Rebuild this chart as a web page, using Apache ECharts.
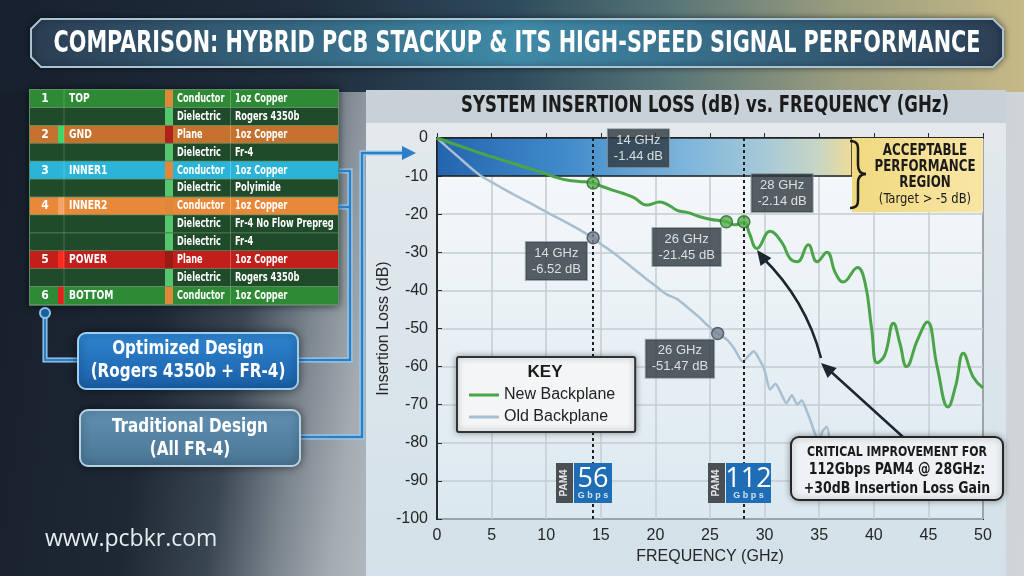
<!DOCTYPE html>
<html>
<head>
<meta charset="utf-8">
<script src="https://cdn.jsdelivr.net/npm/echarts@6/dist/echarts.min.js"></script>
<style>
html,body{margin:0;padding:0;width:1024px;height:576px;overflow:hidden;}
body{
  background:
    linear-gradient(90deg,#18212e 0%,#1f2d3c 30%,#2e4b5c 50%,#567477 65%,#9a9d7e 82%,#c6b987 100%) 0 0/1024px 92px no-repeat,
    linear-gradient(98deg,#161e2a 0%,#1e2835 18%,#3b4653 26%,#7a848d 32%,#a3abb1 37%,#c4cacd 45%,#cfd5d8 100%);
}
#chart{width:1024px;height:576px;}
</style>
</head>
<body>
<div id="chart"></div>
<script>
// ---- data ----
var freqNew = [0,1,2,3,4,5,6,7,8,9,10,11,12,13,14.3,15.2,16,17,18,19.2,20.4,21.2,22,23,24,25,26.5,27.3,28.1,28.6,29.3,30.5,31.6,32.3,33,34,34.8,35.7,36.5,37.2,38.5,39.2,39.8,40.3,41,41.8,42.4,43,44,44.9,45.8,46.8,47.5,48.2,49.1,50];
var lossNew = [0,-1,-2,-3,-4,-4.9,-5.8,-6.7,-7.6,-8.5,-9.4,-10.4,-11.1,-11.4,-11.8,-12.8,-13.6,-14.5,-15.6,-17.6,-16.8,-17.6,-19,-19.6,-20.6,-21.3,-22,-22.8,-22,-25,-29,-24.5,-27.5,-31.5,-32.5,-28,-32.5,-30,-35.5,-37.8,-34,-38,-50,-59,-57,-48.6,-54,-60,-53,-48.3,-60,-70.6,-65,-56.5,-62.7,-65.6];

var freqOld = [0,1,2,3,4,5,6,7,8,9,10,11,12,13,14.3,15,16,17,18,19,20,21,22,23,24,24.7,25.7,26.5,27.2,28,28.6,29,29.6,30,30.5,31,31.5,32,32.5,33,33.4,33.9,34.3,34.6,35,35.3,35.7,36];
var lossOld = [0,-2.6,-5.1,-7.6,-9.9,-11.6,-13.2,-14.8,-16.3,-17.8,-19.4,-20.9,-22.4,-24,-26.2,-27.8,-29.8,-32,-34.3,-36.6,-38.8,-41,-42.3,-44.6,-47,-49,-51.3,-52.8,-55.2,-58.7,-57,-56,-58.5,-61,-66,-64.5,-67,-69.6,-67.5,-70,-68.8,-72,-75,-77.5,-79.5,-77,-75.8,-80];

var ptFreq = [14.3, 26.5, 28.1, 14.3, 25.7];
var ptLoss = [-11.8, -22, -22, -26.2, -51.3];
var ptText = ['14 GHz\n-1.44 dB','26 GHz\n-21.45 dB','28 GHz\n-2.14 dB','14 GHz\n-6.52 dB','26 GHz\n-51.47 dB'];
var ptSeries = ['new','new','new','old','old'];

var markFreq = [14.3, 28.1];

var layerNo = ['1','','2','','3','','4','','','5','','6'];
var layerName = ['TOP','','GND','','INNER1','','INNER2','','','POWER','','BOTTOM'];
var layerType = ['Conductor','Dielectric','Plane','Dielectric','Conductor','Dielectric','Conductor','Dielectric','Dielectric','Plane','Dielectric','Conductor'];
var layerMaterial = ['1oz Copper','Rogers 4350b','1oz Copper','Fr-4','1oz Copper','Polyimide','1oz Copper','Fr-4 No Flow Prepreg','Fr-4','1oz Copper','Rogers 4350b','1oz Copper'];

// ---- styles ----
var rowFill = ['#2e8a34','#1f4b2a','#c4722e','#1f4b2a','#2cb4d8','#1f4b2a','#e8893a','#1f4b2a','#1f4b2a','#c21f1b','#1f4b2a','#2e8a34'];
var noStrip = [null,null,'#3ed66a',null,null,null,'#f4a466',null,null,'#ff2a1e',null,'#e0221c'];
var typeStrip = ['#e0883a','#56c66e','#b0201c','#56c66e','#e0883a','#56c66e','#e0883a','#56c66e','#56c66e','#9a1a16','#56c66e','#e0883a'];
var NARROW = '"Liberation Sans Narrow","DejaVu Sans Condensed",sans-serif';
var SANS = '"Liberation Sans",Arial,sans-serif';

var myChart = echarts.init(document.getElementById('chart'), null, {renderer:'canvas'});

function pairs(xs, ys){ return xs.map(function(x,i){ return [x, ys[i]]; }); }

function txt(x, y, s, font, fill, align, extra){
  var o = {type:'text', x:x, y:y, z:20, silent:true,
    style:{text:s, font:font, fill:fill, align:align||'center', verticalAlign:'middle'}};
  if (extra) for (var k in extra) o[k] = extra[k];
  return o;
}
function box(x, y, w, h, fill, extra){
  var o = {type:'rect', shape:{x:x, y:y, width:w, height:h}, style:{fill:fill}, z:5, silent:true};
  if (extra) for (var k in extra) o[k] = extra[k];
  return o;
}
function curve(x1, y1, c1x, c1y, c2x, c2y, x2, y2, color, w){
  return {type:'bezierCurve', z:21, silent:true,
    shape:{x1:x1, y1:y1, cpx1:c1x, cpy1:c1y, cpx2:c2x, cpy2:c2y, x2:x2, y2:y2},
    style:{stroke:color, lineWidth:w, fill:null}};
}
function arrowHead(tx, ty, fx, fy, size, color){
  var dx = tx - fx, dy = ty - fy, l = Math.sqrt(dx*dx + dy*dy);
  dx /= l; dy /= l;
  var bx = tx - dx*size, by = ty - dy*size;
  return {type:'polygon', z:21, silent:true,
    shape:{points:[[tx,ty],[bx - dy*size*0.45, by + dx*size*0.45],[bx + dy*size*0.45, by - dx*size*0.45]]},
    style:{fill:color}};
}

var g = [];
// header banner
g.push({type:'polygon', z:5, silent:true,
  shape:{points:[[41,19],[993,19],[1003,29],[1003,57],[993,67],[41,67],[31,57],[31,29]]},
  style:{fill:{type:'linear',x:0,y:0,x2:1,y2:0,colorStops:[
    {offset:0,color:'#2b3d52'},{offset:0.5,color:'#3f8aa8'},{offset:1,color:'#2c3e54'}]},
    stroke:'#a9c4d4', lineWidth:2, shadowBlur:6, shadowColor:'rgba(0,0,0,0.5)'}});
g.push({type:'text', x:517, y:44, z:20, silent:true, scaleX:0.745,
  style:{text:'COMPARISON: HYBRID PCB STACKUP & ITS HIGH-SPEED SIGNAL PERFORMANCE',
    font:'bold 31px ' + NARROW, fill:'#ffffff', align:'center', verticalAlign:'middle',
    shadowBlur:3, shadowColor:'rgba(0,0,0,0.7)', shadowOffsetY:1}});

// chart panel
g.push(box(366, 90, 640, 486, {type:'linear',x:0,y:0,x2:0,y2:1,colorStops:[
  {offset:0,color:'#e4e9ec'},{offset:1,color:'#d3e1ea'}]}, {z:-1}));
g.push(box(366, 90, 640, 33, '#c8d1d7', {z:-1}));
g.push(txt(705, 106, 'SYSTEM INSERTION LOSS (dB) vs. FREQUENCY (GHz)', 'bold 23px ' + NARROW, '#1b1b1b', 'center',
  {scaleX:0.8}));

// stackup table
var tx0 = 30, ty0 = 90, rh = 17.9;
g.push(box(tx0-1, ty0-1, 310, rh*12+2, '#5f8f66', {z:4, style:{fill:'#5f8f66', shadowBlur:8, shadowColor:'rgba(0,0,0,0.6)'}}));
for (var i = 0; i < 12; i++) {
  var y = ty0 + i*rh;
  g.push(box(tx0, y, 308, rh - 0.8, rowFill[i]));
  if (noStrip[i]) g.push(box(58, y, 6, rh - 0.8, noStrip[i], {z:6}));
  g.push(box(165, y, 8, rh - 0.8, typeStrip[i], {z:6}));
  g.push(box(230, y, 1, rh - 0.8, 'rgba(255,255,255,0.25)', {z:6}));
  g.push(box(63.5, y, 1, rh - 0.8, 'rgba(255,255,255,0.2)', {z:6}));
  var cy = y + rh/2;
  if (layerNo[i]) g.push(txt(45, cy, layerNo[i], 'bold 12px ' + NARROW, '#ffffff'));
  if (layerName[i]) g.push(txt(69, cy, layerName[i], 'bold 12px ' + NARROW, '#ffffff', 'left', {scaleX:0.85}));
  g.push(txt(177, cy, layerType[i], 'bold 11.5px ' + NARROW, '#ffffff', 'left', {scaleX:0.79}));
  g.push(txt(235, cy, layerMaterial[i], 'bold 11.5px ' + NARROW, '#ffffff', 'left', {scaleX:0.8}));
}

// connectors
function conn(pts){
  g.push({type:'polyline', z:3, silent:true, shape:{points:pts}, style:{stroke:'#9fd0f2', lineWidth:5, fill:null}});
  g.push({type:'polyline', z:4, silent:true, shape:{points:pts}, style:{stroke:'#2c7fc6', lineWidth:2.5, fill:null}});
}
conn([[338,171],[350,171],[350,360],[298,360]]);
conn([[338,207],[350,207]]);
conn([[300,437],[362,437],[362,153],[404,153]]);
g.push({type:'polygon', z:5, silent:true, shape:{points:[[416,153],[402,146],[402,160]]}, style:{fill:'#2c7fc6'}});
conn([[45,318],[45,360],[80,360]]);
g.push({type:'circle', z:6, silent:true, shape:{cx:45, cy:313, r:5}, style:{fill:'#1d5d9a', stroke:'#8cc6ef', lineWidth:2}});

// design boxes
g.push({type:'rect', z:7, silent:true, shape:{x:78, y:333, width:220, height:56, r:8},
  style:{fill:{type:'linear',x:0,y:0,x2:0,y2:1,colorStops:[{offset:0,color:'#2f86d2'},{offset:1,color:'#1a5ea6'}]},
    stroke:'#9bd0f4', lineWidth:2, shadowBlur:8, shadowColor:'rgba(0,0,0,0.5)'}});
g.push(txt(188, 349, 'Optimized Design', 'bold 19px ' + NARROW, '#ffffff', 'center', {scaleX:0.89}));
g.push(txt(188, 372, '(Rogers 4350b + FR-4)', 'bold 19px ' + NARROW, '#ffffff', 'center', {scaleX:0.89}));
g.push({type:'rect', z:7, silent:true, shape:{x:80, y:410, width:220, height:56, r:8},
  style:{fill:{type:'linear',x:0,y:0,x2:0,y2:1,colorStops:[{offset:0,color:'#6191b2'},{offset:1,color:'#4a7594'}]},
    stroke:'#b4d2e4', lineWidth:2, shadowBlur:8, shadowColor:'rgba(0,0,0,0.5)'}});
g.push(txt(190, 427, 'Traditional Design', 'bold 19px ' + NARROW, '#ffffff', 'center', {scaleX:0.89}));
g.push(txt(190, 450, '(All FR-4)', 'bold 19px ' + NARROW, '#ffffff', 'center', {scaleX:0.89}));

g.push(txt(45, 539, 'www.pcbkr.com', '23px "Open Sans",sans-serif', '#e6ecef', 'left'));

// acceptable region note, with its brace
var BR = '#1a1a1a';
g.push(curve(850,141, 859,141, 858,147, 858,153, BR, 2.5));
g.push({type:'line', z:21, silent:true, shape:{x1:858,y1:153,x2:858,y2:165}, style:{stroke:BR, lineWidth:2.5}});
g.push(curve(858,165, 858,171, 861,174, 866,174, BR, 2.5));
g.push(curve(866,174, 861,174, 858,177, 858,183, BR, 2.5));
g.push({type:'line', z:21, silent:true, shape:{x1:858,y1:183,x2:858,y2:196}, style:{stroke:BR, lineWidth:2.5}});
g.push(curve(858,196, 858,202, 859,208, 850,208, BR, 2.5));
g.push(txt(925, 151, 'ACCEPTABLE', 'bold 15px ' + NARROW, '#1a1a1a', 'center', {scaleX:0.88}));
g.push(txt(925, 167, 'PERFORMANCE', 'bold 15px ' + NARROW, '#1a1a1a', 'center', {scaleX:0.88}));
g.push(txt(925, 183, 'REGION', 'bold 15px ' + NARROW, '#1a1a1a', 'center', {scaleX:0.88}));
g.push(txt(925, 199, '(Target > -5 dB)', '14px ' + NARROW, '#1a1a1a', 'center', {scaleX:0.92}));

// PAM4 badges
function badge(x, w, num){
  g.push(box(x, 463, 17, 40, '#4a4f54', {z:20}));
  g.push(txt(x + 8.5, 483, 'PAM4', 'bold 10px ' + SANS, '#e8e8e8', 'center', {rotation:Math.PI/2}));
  g.push(box(x + 18, 463, w, 40, '#1f6db5', {z:20}));
  g.push(txt(x + 18 + w/2, 479, num, '27px "Open Sans",sans-serif', '#ffffff'));
  g.push(txt(x + 18 + w/2, 496, 'G b p s', 'bold 9px ' + SANS, '#cfe3f5'));
}
badge(556, 38, '56');
badge(708, 45, '112');

// arrows
g.push({type:'bezierCurve', z:21, silent:true,
  shape:{x1:821, y1:358, cpx1:806, cpy1:300, x2:762, y2:257},
  style:{stroke:'#1c2530', lineWidth:2.5, fill:null}});
g.push(arrowHead(757, 250, 772, 270, 15, '#1c2530'));
g.push({type:'line', z:21, silent:true, shape:{x1:903, y1:437, x2:828, y2:369}, style:{stroke:'#1c2530', lineWidth:2.5}});
g.push(arrowHead(821, 363, 903, 437, 15, '#1c2530'));

// critical box
g.push({type:'rect', z:22, silent:true, shape:{x:791, y:437, width:212, height:63, r:8},
  style:{fill:'#eef2f4', stroke:'#262626', lineWidth:2, shadowBlur:6, shadowColor:'rgba(0,0,0,0.35)'}});
g.push(txt(897, 452, 'CRITICAL IMPROVEMENT FOR', 'bold 14px ' + NARROW, '#1a1a1a', 'center', {z:23, scaleX:0.87}));
g.push(txt(897, 470, '112Gbps PAM4 @ 28GHz:', 'bold 16px ' + NARROW, '#1a1a1a', 'center', {z:23, scaleX:0.87}));
g.push(txt(897, 489, '+30dB Insertion Loss Gain', 'bold 16px ' + NARROW, '#1a1a1a', 'center', {z:23, scaleX:0.87}));

// KEY title inside legend
g.push(txt(545, 372, 'KEY', 'bold 17px ' + SANS, '#1a1a1a', 'center', {z:30}));

// ---- annotation points ----
var labelPos = [[52,-9,'bottom'],[-33,13,'top'],[45,-3,'bottom'],[-30,11,'top'],[-31,13,'top']];
var ptData = ptFreq.map(function(f, i){
  var isNew = ptSeries[i] === 'new';
  return {
    value:[f, ptLoss[i]],
    itemStyle:{color:isNew ? '#56ae4e' : '#748290', borderColor:isNew ? '#2a6a2a' : '#3c4853', borderWidth:1.5},
    label:{show:true, formatter:ptText[i], position:[labelPos[i][0], labelPos[i][1]],
      align:'center', verticalAlign:labelPos[i][2]}
  };
});

var option = {
  animation:false,
  graphic:{elements:g},
  legend:{
    data:['New Backplane','Old Backplane'],
    left:457, top:357, orient:'vertical',
    icon:'rect', itemWidth:30, itemHeight:3, itemGap:6,
    padding:[30,20,7,12],
    backgroundColor:'#f3f5f6', borderColor:'#333333', borderWidth:2, borderRadius:2,
    shadowBlur:6, shadowColor:'rgba(0,0,0,0.35)',
    textStyle:{fontSize:16, color:'#222', fontFamily:SANS},
    z:25
  },
  grid:{left:437, right:41, top:138, bottom:57, show:true,
    borderColor:'#2a2a2a', borderWidth:2,
    backgroundColor:{type:'linear',x:0,y:0,x2:0,y2:1,colorStops:[{offset:0,color:'#f7f9fa'},{offset:1,color:'#dbe8f0'}]}},
  xAxis:{
    type:'value', min:0, max:50, interval:5,
    name:'FREQUENCY (GHz)', nameLocation:'middle', nameGap:28,
    nameTextStyle:{fontSize:16, color:'#262626', fontFamily:SANS},
    axisLine:{show:true, lineStyle:{color:'#2a2a2a', width:2}},
    axisTick:{show:true, inside:true, length:5, lineStyle:{color:'#2a2a2a'}},
    axisLabel:{fontSize:16, color:'#262626', margin:9, fontFamily:SANS},
    splitLine:{lineStyle:{color:'#c4ccd2', width:1.5}}
  },
  yAxis:{
    type:'value', min:-100, max:0, interval:10,
    name:'Insertion Loss (dB)', nameLocation:'middle', nameGap:45, nameRotate:90,
    nameMoveOverlap:false,
    nameTextStyle:{fontSize:16, color:'#262626', fontFamily:SANS},
    axisLine:{show:true, lineStyle:{color:'#2a2a2a', width:2}},
    axisTick:{show:true, inside:true, length:5, lineStyle:{color:'#2a2a2a'}},
    axisLabel:{fontSize:16, color:'#262626', margin:9, fontFamily:SANS},
    splitLine:{lineStyle:{color:'#c4ccd2', width:1.5}}
  },
  series:[
    {
      name:'New Backplane', type:'line', data:pairs(freqNew, lossNew),
      smooth:0.45, symbol:'none', z:4,
      lineStyle:{color:'#4ca44a', width:3}, itemStyle:{color:'#4ca44a'},
      markArea:{silent:true, data:[
        [{xAxis:0, yAxis:0, itemStyle:{borderColor:'#222', borderWidth:1.5,
          color:{type:'linear',x:0,y:0,x2:1,y2:0,colorStops:[
            {offset:0,color:'#2464ae'},{offset:0.3,color:'#3f8aca'},{offset:0.6,color:'#7db5dc'},
            {offset:0.8,color:'#a9cad6'},{offset:0.92,color:'#c8d6c4'},{offset:1,color:'#eedb94'}]}}},
         {xAxis:38, yAxis:-10}],
        [{xAxis:38, yAxis:0, itemStyle:{color:{type:'linear',x:0,y:0,x2:1,y2:0,colorStops:[
            {offset:0,color:'#f1d97f'},{offset:1,color:'#f8e6a6'}]}}},
         {xAxis:50, yAxis:-19.5}]
      ]},
      markLine:{silent:true, symbol:'none', label:{show:false},
        lineStyle:{color:'#1e1e1e', type:[3,3], width:2},
        data:markFreq.map(function(f){ return {xAxis:f}; })}
    },
    {
      name:'Old Backplane', type:'line', data:pairs(freqOld, lossOld),
      smooth:0.2, symbol:'none', z:3,
      lineStyle:{color:'#a7bfd0', width:2.5}, itemStyle:{color:'#a7bfd0'}
    },
    {
      name:'points', type:'scatter', data:ptData, symbolSize:12, z:6,
      label:{color:'#ffffff', fontSize:13, lineHeight:16, fontFamily:SANS,
        backgroundColor:'#2d373d', borderColor:'#8a979f', borderWidth:1, padding:[3,6]}
    }
  ]
};
myChart.setOption(option);
</script>
</body>
</html>
